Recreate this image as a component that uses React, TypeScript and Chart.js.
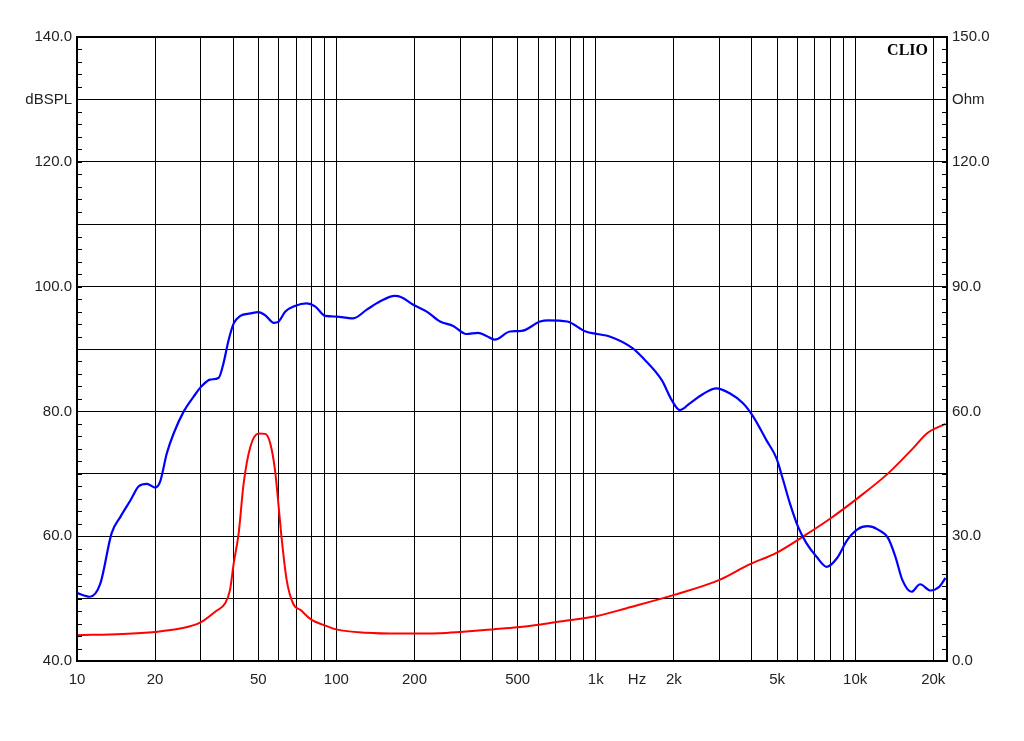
import { useEffect, useRef } from 'react';
import { Chart, registerables } from 'chart.js';

Chart.register(...registerables);

// SPL response (blue, left axis)
const splFreq = [
  10, 11.2, 12.3, 13.6, 14.7, 16.1, 17.3, 18.6, 20, 20.9, 22.2, 23.6, 25.8, 28.2, 30.3, 32.6, 35.2,
  36.7, 38.4, 40.2, 42.6, 46.6, 50.1, 53.2, 57.4, 59.9, 63.6, 69.2, 76.8, 83, 90.6, 100, 110, 116,
  131, 147, 168, 178, 198, 223, 251, 282, 317, 352, 379, 408, 467, 518, 610, 657, 776, 914, 1010,
  1131, 1389, 1525, 1797, 1963, 2110, 2306, 2594, 2918, 3283, 3696, 4040, 4547, 4971, 5276, 5600,
  6026, 6486, 7100, 7780, 8520, 9330, 10210, 11170, 12200, 13400, 14300, 15200, 16500, 17800,
  19500, 21100, 22300,
];
const splDb = [
  50.9, 50.3, 52.4, 60.5, 63.1, 65.8, 68.0, 68.4, 67.8, 68.7, 73.3, 76.5, 80.0, 82.4, 84.1, 85.1, 85.4,
  87.7, 91.4, 94.1, 95.3, 95.7, 95.9, 95.4, 94.2, 94.4, 96.0, 96.9, 97.3, 96.8, 95.3, 95.2, 95.0, 94.9,
  96.3, 97.6, 98.5, 98.3, 97.1, 96.0, 94.4, 93.7, 92.4, 92.6, 92.1, 91.5, 92.8, 92.9, 94.4, 94.6, 94.4,
  92.8, 92.4, 92.0, 90.1, 88.5, 85.0, 81.8, 80.2, 81.3, 82.8, 83.7, 82.9, 81.3, 79.2, 75.4, 72.5, 69.0,
  65.3, 61.5, 58.9, 56.7, 55.1, 56.5, 59.4, 61.1, 61.6, 61.1, 59.7, 56.7, 53.0, 51.1, 52.3, 51.3, 51.9,
  53.3,
];

// impedance (red, right axis)
const zFreq = [
  10, 15, 20, 25, 29.8, 34.5, 37.2, 38.9, 40.2, 42, 43.9, 46.6, 50.1, 53.2, 55.6, 58, 59.9, 61.6,
  64.3, 68.2, 72.6, 80.3, 89, 100, 130, 176, 250, 300, 400, 500, 600, 728, 1012, 1315, 2005, 3000,
  3877, 4971, 6400, 8000, 10200, 13400, 16700, 18900, 22300,
];
const zOhm = [
  6.2, 6.5, 7.0, 7.8, 9.2, 12.1, 13.8, 17.1, 23.5, 30.7, 42.7, 51.5, 54.7, 54.6, 52.3, 45.9, 37.1, 29.1,
  19.5, 13.7, 12.3, 9.9, 8.7, 7.6, 6.8, 6.6, 6.7, 7.0, 7.6, 8.1, 8.7, 9.5, 10.8, 12.7, 15.9, 19.5,
  23.1, 26.0, 30.2, 34.2, 39.1, 45.1, 51.1, 54.7, 57.0,
];

const freqGrid = [
  10, 20, 30, 40, 50, 60, 70, 80, 90, 100, 200, 300, 400, 500, 600, 700, 800, 900, 1000, 2000, 3000,
  4000, 5000, 6000, 7000, 8000, 9000, 10000, 20000,
];
const freqLabels: Record<number, string> = {
  10: '10', 20: '20', 50: '50', 100: '100', 200: '200', 500: '500', 1000: '1k', 2000: '2k',
  5000: '5k', 10000: '10k', 20000: '20k',
};
const HZ_AT = 1442;

const splLabels: Record<number, string> = {
  40: '40.0', 60: '60.0', 80: '80.0', 100: '100.0', 120: '120.0', 130: 'dBSPL', 140: '140.0',
};
const ohmTicks = [0, 30, 60, 90, 120, 135, 150];
const ohmLabels: Record<number, string> = {
  0: '0.0', 30: '30.0', 60: '60.0', 90: '90.0', 120: '120.0', 135: 'Ohm', 150: '150.0',
};

const font = { family: "'Liberation Sans', Arial, sans-serif", size: 15 };

const framePlugin = {
  id: 'frame',
  afterDatasetsDraw(chart: any) {
    const { ctx, chartArea: a, scales } = chart;
    ctx.save();
    ctx.strokeStyle = '#000';
    ctx.lineWidth = 1;
    // small inward ticks on both vertical axes
    const y = scales.y;
    for (let v = y.min; v <= y.max + 0.01; v += 2) {
      const py = Math.round(y.getPixelForValue(v)) + 0.5;
      ctx.beginPath();
      ctx.moveTo(a.left, py);
      ctx.lineTo(a.left + 5, py);
      ctx.moveTo(a.right - 5, py);
      ctx.lineTo(a.right, py);
      ctx.stroke();
    }
    ctx.lineWidth = 2;
    ctx.strokeRect(a.left, a.top, a.right - a.left, a.bottom - a.top);
    ctx.fillStyle = '#000';
    ctx.font = "bold 16px 'Liberation Serif', 'Times New Roman', serif";
    ctx.textAlign = 'right';
    ctx.textBaseline = 'alphabetic';
    ctx.fillText('CLIO', a.right - 19, a.top + 18);
    ctx.restore();
  },
};

export default function App() {
  const canvasRef = useRef<HTMLCanvasElement>(null);
  const chartRef = useRef<Chart | null>(null);

  useEffect(() => {
    if (!canvasRef.current) return;
    if (chartRef.current) chartRef.current.destroy();

    chartRef.current = new Chart(canvasRef.current, {
      type: 'line',
      data: {
        datasets: [
          {
            label: 'SPL',
            data: splFreq.map((f, i) => ({ x: f, y: splDb[i] })),
            borderColor: '#0000ff',
            borderWidth: 2.2,
            pointRadius: 0,
            cubicInterpolationMode: 'monotone',
            yAxisID: 'y',
          },
          {
            label: 'Impedance',
            data: zFreq.map((f, i) => ({ x: f, y: zOhm[i] })),
            borderColor: '#ff0000',
            borderWidth: 2,
            pointRadius: 0,
            cubicInterpolationMode: 'monotone',
            yAxisID: 'y1',
          },
        ],
      },
      options: {
        responsive: false,
        animation: false,
        layout: { padding: { top: 37, left: 0, right: 0, bottom: 0 } },
        plugins: {
          legend: { display: false },
          tooltip: { enabled: false },
        },
        scales: {
          x: {
            type: 'logarithmic',
            min: 10,
            max: 22600,
            afterBuildTicks: (scale: any) => {
              scale.ticks = [...freqGrid, HZ_AT].map((v) => ({ value: v }));
            },
            afterFit: (scale: any) => {
              scale.height = 80;
            },
            ticks: {
              autoSkip: false,
              maxRotation: 0,
              padding: 10,
              color: '#222',
              font,
              callback: (v: any) => (v === HZ_AT ? 'Hz' : freqLabels[v] ?? ''),
            },
            grid: {
              color: (c: any) => (c.tick && c.tick.value === HZ_AT ? 'rgba(0,0,0,0)' : '#000'),
              lineWidth: 1,
              drawTicks: false,
            },
            border: { display: false },
          },
          y: {
            position: 'left',
            min: 40,
            max: 140,
            afterFit: (scale: any) => {
              scale.width = 77;
            },
            ticks: {
              stepSize: 10,
              autoSkip: false,
              padding: 5,
              color: '#222',
              font,
              callback: (v: any) => splLabels[v] ?? '',
            },
            grid: { color: '#000', lineWidth: 1, drawTicks: false },
            border: { display: false },
          },
          y1: {
            position: 'right',
            min: 0,
            max: 150,
            afterBuildTicks: (scale: any) => {
              scale.ticks = ohmTicks.map((v) => ({ value: v }));
            },
            afterFit: (scale: any) => {
              scale.width = 77;
            },
            ticks: {
              autoSkip: false,
              padding: 5,
              color: '#222',
              font,
              callback: (v: any) => ohmLabels[v] ?? '',
            },
            grid: { drawOnChartArea: false, drawTicks: false },
            border: { display: false },
          },
        },
      },
      plugins: [framePlugin],
    });

    return () => {
      if (chartRef.current) {
        chartRef.current.destroy();
        chartRef.current = null;
      }
    };
  }, []);

  return (
    <div style={{ position: 'fixed', left: 0, top: 0, width: 1024, height: 741, background: '#fff' }}>
      <canvas ref={canvasRef} width={1024} height={741} />
    </div>
  );
}
